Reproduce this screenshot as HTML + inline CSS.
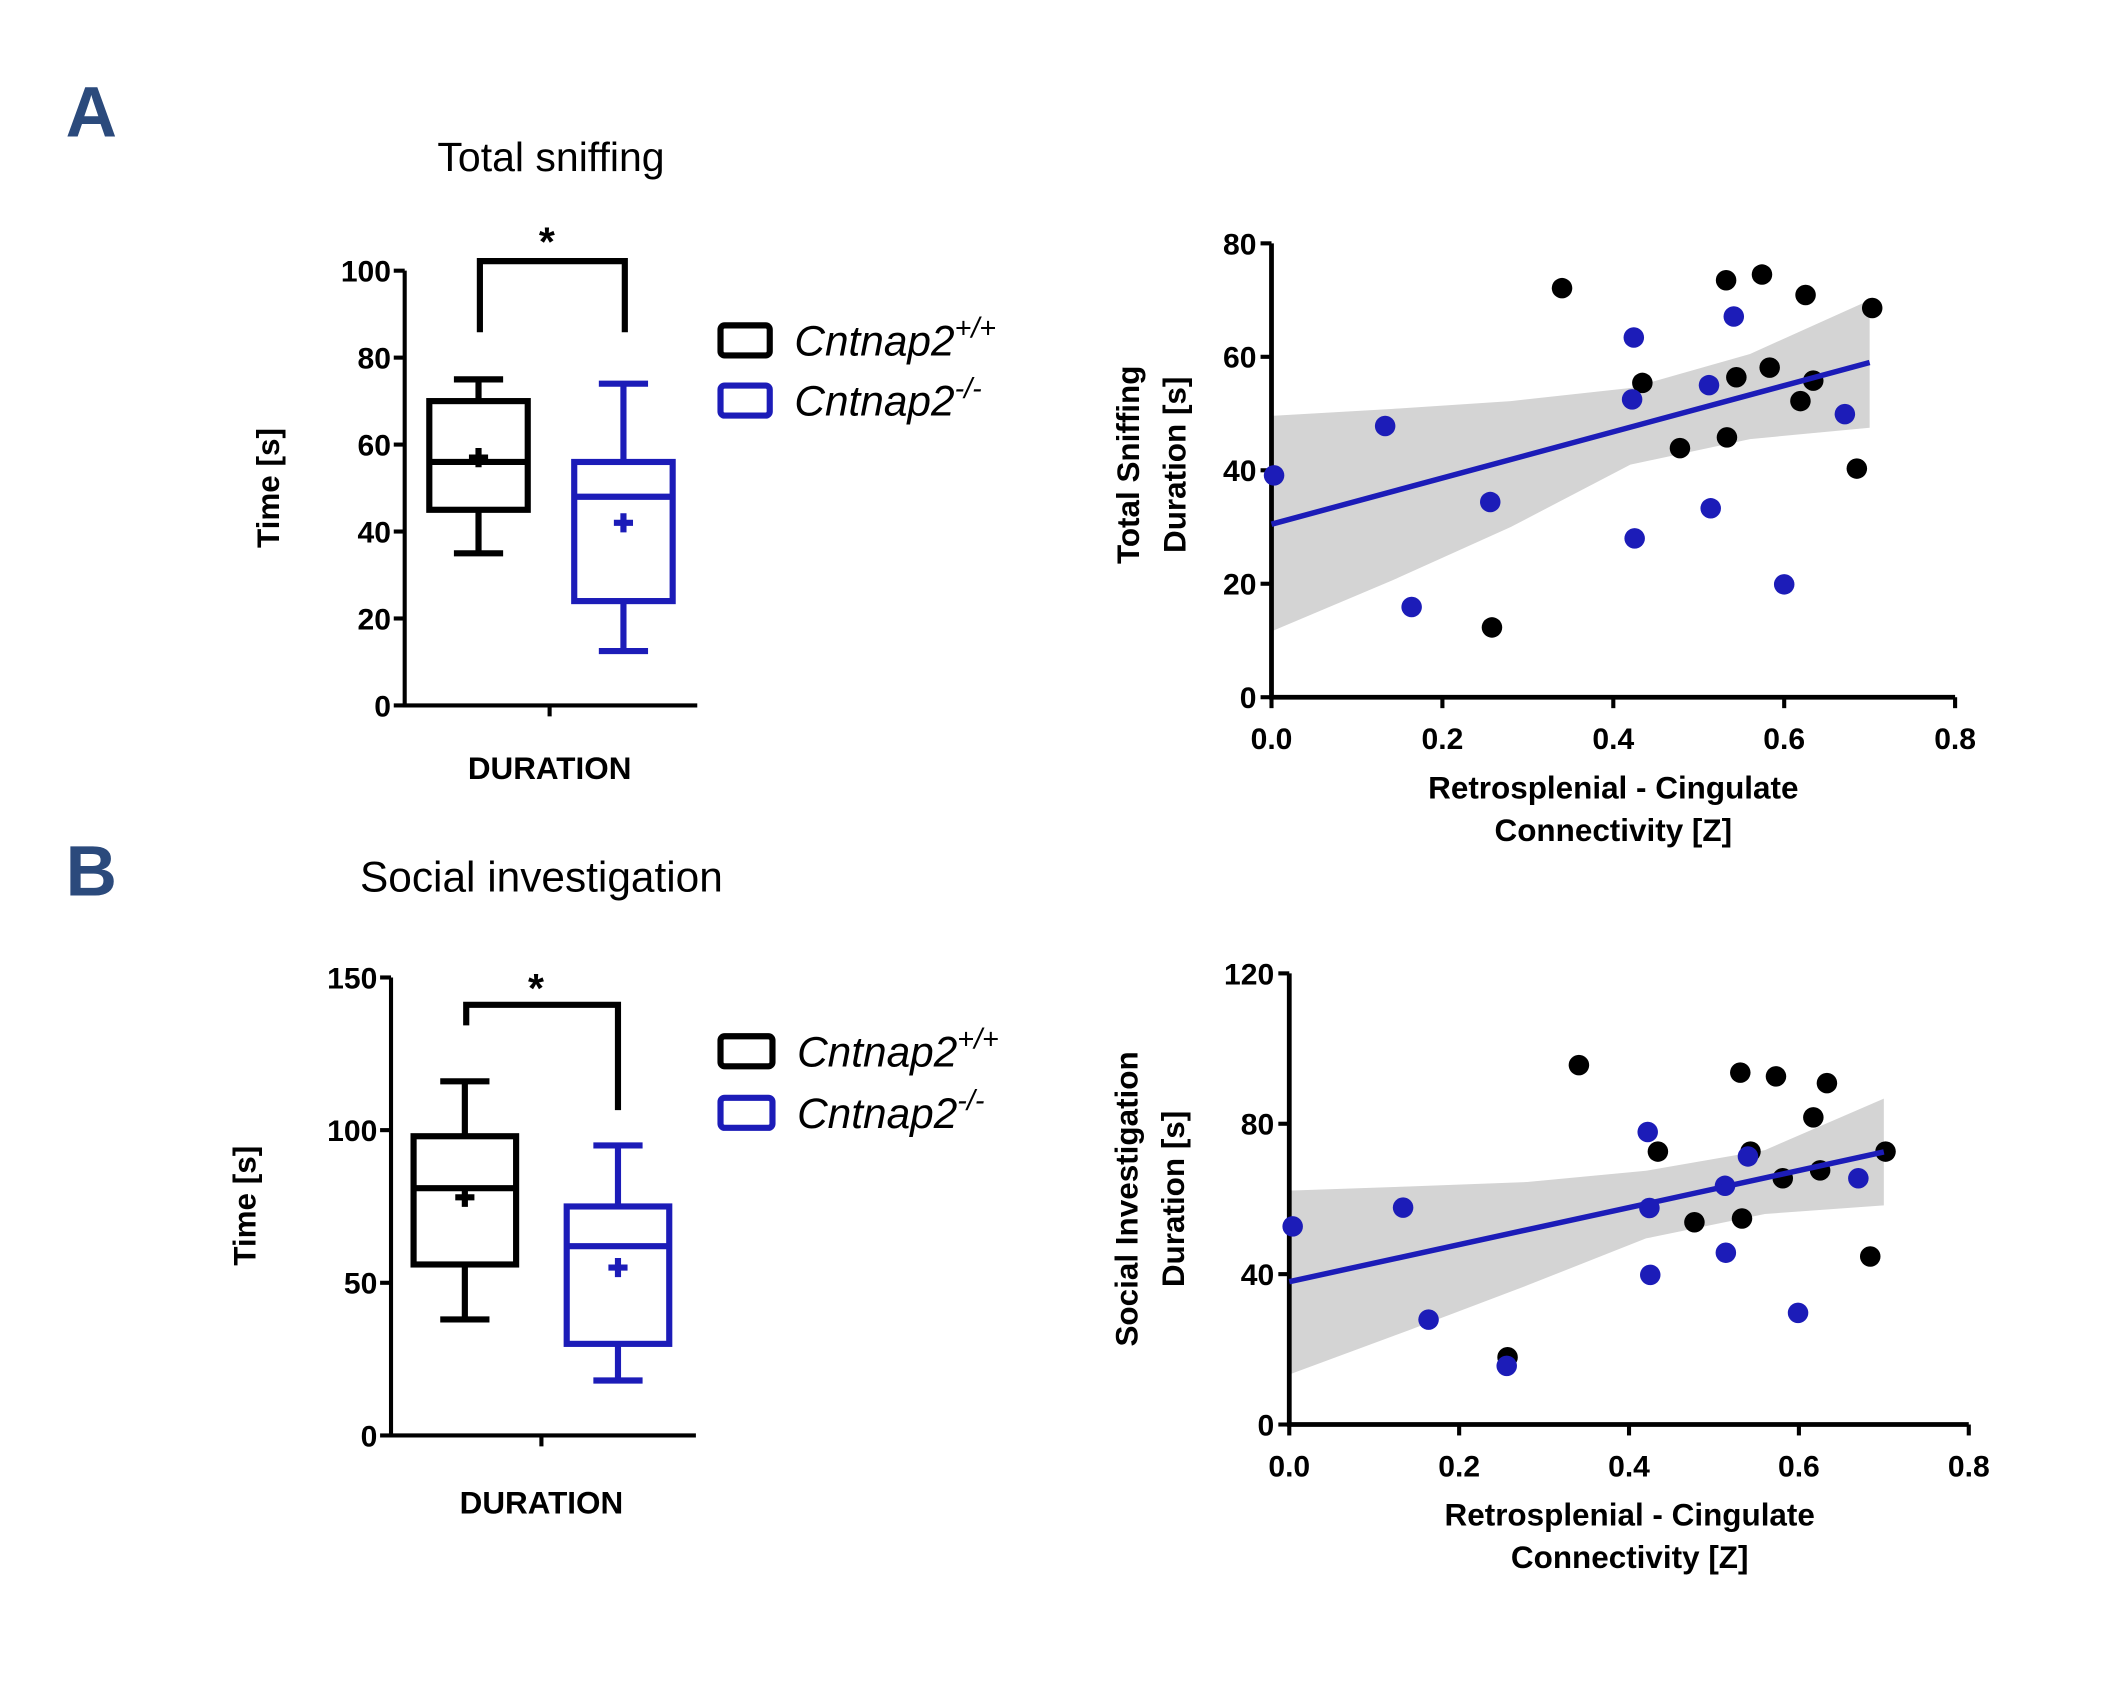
<!DOCTYPE html>
<html><head><meta charset="utf-8">
<style>
html,body{margin:0;padding:0;background:#fff;}
svg{display:block;}
text{font-family:"Liberation Sans",sans-serif;}
.tick{font-size:22px;font-weight:bold;}
.ttl{font-size:23px;font-weight:bold;}
.leg{font-size:31px;font-style:italic;}
</style></head>
<body>
<svg id="fig" width="2126" height="1687" viewBox="0 0 1555 1234" preserveAspectRatio="none" xmlns="http://www.w3.org/2000/svg">
<text x="48" y="100" font-size="52" font-weight="bold" fill="#2b4a7c">A</text>
<text x="48" y="655" font-size="52" font-weight="bold" fill="#2b4a7c">B</text>
<text x="403" y="125" font-size="30" text-anchor="middle">Total sniffing</text>
<text x="396" y="652" font-size="31" text-anchor="middle">Social investigation</text>
<g id="gA"></g><g id="gB"></g><g id="sA"></g><g id="sB"></g>
</svg>
<script>
const NS='http://www.w3.org/2000/svg';
const BLUE='#1c1cb8';
// Panel A box stats [min,q1,median,q3,max,mean]
const boxA_WT=[35,45,56,70,75,57];
const boxA_KO=[12.5,24,48,56,74,42];
const ticksA=[0,20,40,60,80,100];
// Panel B box stats
const boxB_WT=[38,56,81,98,116,78];
const boxB_KO=[18,30,62,75,95,55];
const ticksB=[0,50,100,150];
// Scatter A
const scA_wtX=[.340,.258,.434,.478,.532,.533,.544,.574,.583,.619,.625,.634,.685,.703];
const scA_wtY=[72.1,12.3,55.4,43.9,73.5,45.8,56.4,74.5,58.1,52.2,70.9,55.8,40.3,68.6];
const scA_koX=[.003,.133,.164,.256,.424,.422,.425,.512,.514,.541,.600,.671];
const scA_koY=[39.1,47.8,15.9,34.4,63.4,52.5,28.0,55.0,33.3,67.1,19.9,49.9];
const fitA=[30.5,59.0];
const bandX=[0,.14,.28,.42,.56,.70];
const bandA_hi=[49.6,50.8,52.2,54.5,60.5,70];
const bandA_lo=[11.6,20.5,30,41,45.5,47.5];
const ticksA_y=[0,20,40,60,80];
const ticksX=[0,0.2,0.4,0.6,0.8];
// Scatter B
const scB_wtX=[.341,.257,.434,.477,.531,.533,.543,.573,.581,.617,.625,.633,.684,.702];
const scB_wtY=[95.6,17.9,72.6,53.8,93.6,54.8,72.6,92.6,65.5,81.7,67.6,90.8,44.7,72.6];
const scB_koX=[.004,.134,.164,.256,.422,.424,.425,.513,.514,.540,.599,.670];
const scB_koY=[52.7,57.7,27.9,15.6,77.8,57.6,39.8,63.5,45.7,71.3,29.7,65.5];
const fitB=[38,72.5];
const bandB_hi=[62.2,63.3,64.5,67.5,73,86.7];
const bandB_lo=[13.3,25,37,49.5,56,58.3];
const ticksB_y=[0,40,80,120];

function el(p,tag,attrs,txt){const e=document.createElementNS(NS,tag);for(const k in attrs)e.setAttribute(k,attrs[k]);if(txt!==undefined)e.textContent=txt;p.appendChild(e);return e;}

function boxPanel(g,cfg){
  const ys=v=>cfg.y0-(v-0)*(cfg.y0-cfg.yTop)/cfg.ymax;
  const ax=el(g,'path',{d:`M${cfg.ax},${cfg.yTop} L${cfg.ax},${cfg.y0} L${cfg.xEnd},${cfg.y0} M${cfg.tickX},${cfg.y0} L${cfg.tickX},${cfg.y0+8}`,stroke:'#000','stroke-width':3,fill:'none'});
  
  
  cfg.ticks.forEach(t=>{
    const l=el(g,'line',{x1:cfg.ax-8,x2:cfg.ax,y1:ys(t),y2:ys(t),stroke:'#000','stroke-width':3});
    
    
    const tx=el(g,'text',{x:cfg.ax-10,y:ys(t)+8,'text-anchor':'end',class:'tick'},String(t));
    
    
  });
  [[cfg.wt,'#000',cfg.c1],[cfg.ko,BLUE,cfg.c2]].forEach(([s,col,cx],i)=>{
    const w=cfg.bw/2,cw=18;
    const b=el(g,'g',{stroke:col,'stroke-width':4.5,fill:'none'});
    
    
    el(b,'rect',{x:cx-w,y:ys(s[3]),width:2*w,height:ys(s[1])-ys(s[3])});
    el(b,'path',{d:`M${cx-w},${ys(s[2])}H${cx+w}M${cx},${ys(s[3])}V${ys(s[4])}M${cx-cw},${ys(s[4])}H${cx+cw}M${cx},${ys(s[1])}V${ys(s[0])}M${cx-cw},${ys(s[0])}H${cx+cw}M${cx-7},${ys(s[5])}H${cx+7}M${cx},${ys(s[5])-7}V${ys(s[5])+7}`});
  });
  const br=el(g,'path',{d:cfg.bracket,stroke:'#000','stroke-width':4.5,fill:'none'});
  
  
  const st=el(g,'text',{x:cfg.starX,y:cfg.starY,'text-anchor':'middle','font-size':30,'font-weight':'bold'},'*');
  
  
  const yl=el(g,'text',{transform:`translate(${cfg.ylX},${cfg.ylY}) rotate(-90)`,'text-anchor':'middle',class:'ttl','font-size':27},'Time [s]');
  
  
  const xl=el(g,'text',{x:cfg.tickX,y:cfg.xlY,'text-anchor':'middle',class:'ttl'},'DURATION');
  
  
  [['#000','+/+',cfg.leg[0]],[BLUE,'-/-',cfg.leg[1]]].forEach(([col,sup,y],i)=>{
    const lg=el(g,'g',{});
    
    
    el(lg,'rect',{x:cfg.legX,y:y-11,width:cfg.legW,height:22,rx:3,fill:'none',stroke:col,'stroke-width':4.5});
    const t=el(lg,'text',{x:cfg.legX+cfg.legW+18,y:y+11,class:'leg'},'Cntnap2');
    el(t,'tspan',{dy:-13,'font-size':21},sup);
  });
}
boxPanel(document.getElementById('gA'),{ax:296,y0:516,yTop:198,ymax:100,xEnd:510,tickX:402,ticks:ticksA,wt:boxA_WT,ko:boxA_KO,c1:350,c2:456,bw:72,
  bracket:'M351,243 V191 H457 V243',starX:400,starY:187,ylX:204,ylY:357,xlY:570,leg:[249,293],legX:527,legW:36});
boxPanel(document.getElementById('gB'),{ax:286,y0:1050,yTop:715,ymax:150,xEnd:509,tickX:396,ticks:ticksB,wt:boxB_WT,ko:boxB_KO,c1:340,c2:452,bw:75,
  bracket:'M341,750 V735 H452 V812',starX:392,starY:733,ylX:187,ylY:882,xlY:1107,leg:[769,814],legX:527,legW:38});

function scatter(g,cfg){
  const xs=v=>cfg.x0+v*(cfg.x8-cfg.x0)/0.8;
  const ys=v=>cfg.y0-v*(cfg.y0-cfg.yTop)/cfg.ymax;
  let d='M'+bandX.map((x,i)=>xs(x)+','+ys(cfg.hi[i])).join(' L');
  d+=' L'+bandX.map((x,i)=>xs(x)+','+ys(cfg.lo[i])).reverse().join(' L')+'Z';
  const band=el(g,'path',{d,fill:'#d4d4d4'});
  
  
  const ax=el(g,'path',{d:`M${cfg.x0},${cfg.yTop} V${cfg.y0} H${cfg.x8}`,stroke:'#000','stroke-width':3.5,fill:'none'});
  
  
  cfg.yt.forEach(t=>{
    const l=el(g,'line',{x1:cfg.x0-8,x2:cfg.x0,y1:ys(t),y2:ys(t),stroke:'#000','stroke-width':3});
    
    
    const tx=el(g,'text',{x:cfg.x0-11,y:ys(t)+8,'text-anchor':'end',class:'tick'},String(t));
    
    
  });
  ticksX.forEach(t=>{
    const l=el(g,'line',{x1:xs(t),x2:xs(t),y1:cfg.y0,y2:cfg.y0+8,stroke:'#000','stroke-width':3});
    
    
    const tx=el(g,'text',{x:xs(t),y:cfg.y0+38,'text-anchor':'middle',class:'tick'},t.toFixed(1));
    
    
  });
  const pts=[[cfg.wx,cfg.wy,'#000','point-wildtype'],[cfg.kx,cfg.ky,BLUE,'point-knockout']];
  pts.forEach(([X,Y,col,nm])=>X.forEach((x,i)=>{
    const c=el(g,'circle',{cx:xs(x),cy:ys(Y[i]),r:7.5,fill:col});
    
    
  }));
  const ln=el(g,'line',{x1:xs(0),y1:ys(cfg.fit[0]),x2:xs(0.70),y2:ys(cfg.fit[1]),stroke:BLUE,'stroke-width':4});
  
  
  const xt=el(g,'text',{x:cfg.xtX,y:cfg.xtY,'text-anchor':'middle',class:'ttl','font-size':28});
  
  
  el(xt,'tspan',{x:cfg.xtX,dy:0},'Retrosplenial - Cingulate');
  el(xt,'tspan',{x:cfg.xtX,dy:31},'Connectivity [Z]');
  const yt=el(g,'text',{transform:`translate(${cfg.ytX},${cfg.ytY}) rotate(-90)`,'text-anchor':'middle',class:'ttl','font-size':29});
  
  
  el(yt,'tspan',{x:0,dy:0},cfg.yl1);
  el(yt,'tspan',{x:0,dy:34},'Duration [s]');
}
scatter(document.getElementById('sA'),{x0:930,x8:1430,y0:510,yTop:178,ymax:80,yt:ticksA_y,wx:scA_wtX,wy:scA_wtY,kx:scA_koX,ky:scA_koY,fit:fitA,hi:bandA_hi,lo:bandA_lo,
  xtX:1180,xtY:584,ytX:833,ytY:340,yl1:'Total Sniffing'});
scatter(document.getElementById('sB'),{x0:943,x8:1440,y0:1042,yTop:712,ymax:120,yt:ticksB_y,wx:scB_wtX,wy:scB_wtY,kx:scB_koX,ky:scB_koY,fit:fitB,hi:bandB_hi,lo:bandB_lo,
  xtX:1192,xtY:1116,ytX:832,ytY:877,yl1:'Social Investigation'});
</script>
</body></html>
